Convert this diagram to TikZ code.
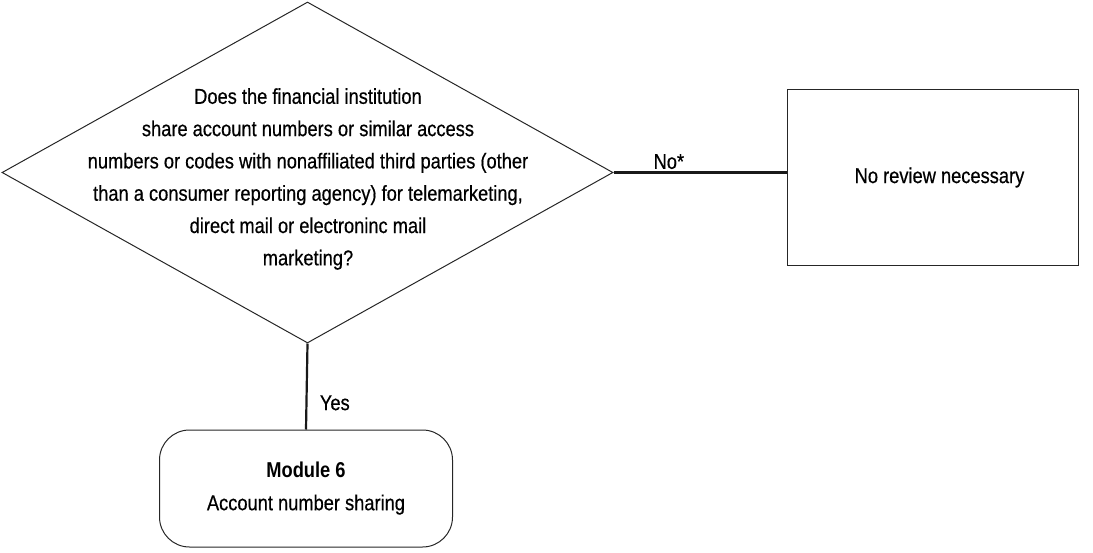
\documentclass[tikz,border=0pt]{standalone}
\usepackage{fontspec}
\setmainfont{Liberation Sans}[FakeStretch=0.85, UprightFeatures={FakeBold=0.5}]
\usetikzlibrary{shapes.geometric, positioning}

\begin{document}
\begin{tikzpicture}[x = 1pt, y = -1pt, % one unit per pixel, y downward
                auto, line width = 1pt, % thin outlines
                font = \fontsize{21.5}{32.3}\selectfont
            ]

            \tikzstyle{decision}=[draw = black!85, diamond, inner sep = 0pt,
            minimum width = 611pt, minimum height = 341pt]
            \tikzstyle{outcome}=[draw = black!85, rectangle, minimum width = 291pt,
            minimum height = 176pt]
            \tikzstyle{module}=[draw = black!85, rectangle, rounded corners = 30pt,
            minimum width = 293pt, minimum height = 117pt, align = center]
            \tikzstyle{conn}=[draw = black!90, line width = 2.2pt]

            \useasboundingbox (0,0) rectangle (1093,552);

            \node[decision] (question) at (307.5,172.5) {}; \node[align =
                center] (qtext) at (308,179) {Does the financial institution\\
                share account numbers or similar access\\ numbers or codes with
                nonaffiliated third parties (other\\ than a consumer reporting
                agency) for telemarketing,\\ direct mail or electroninc mail\\
                marketing?};
            \node[outcome] (noreview) at (932.5,177.5) {\hspace*{14pt}No
                review necessary};
            \node[module] (module) at (306,488.5) {\textbf{Module 6}\\ Account
                number sharing};

            \path (question.east) edge[conn] node[pos = 0.32, above, yshift =
            -1pt] {No*} (noreview.west |- question.east); \path (question.south)
            edge[conn] node[pos = 0.69, right, xshift = 9pt] {Yes}
            (module.north);
        \end{tikzpicture}
\end{document}
